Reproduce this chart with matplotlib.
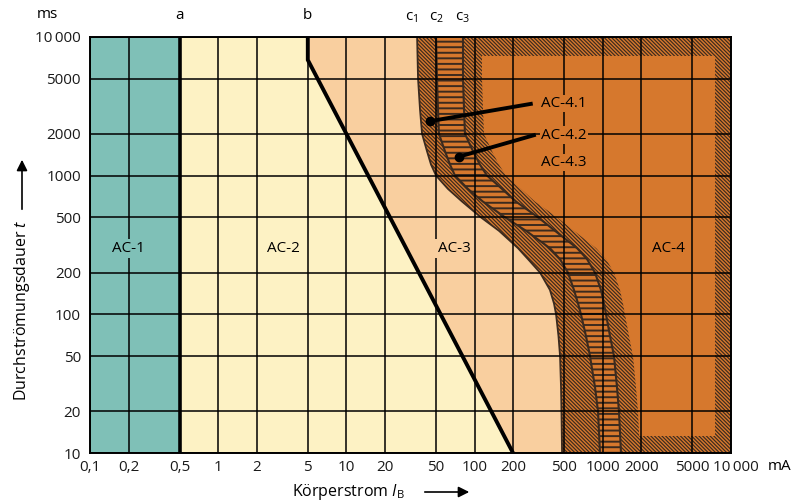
import matplotlib
matplotlib.use("Agg")
import matplotlib.pyplot as plt
import matplotlib.transforms as mtransforms
from matplotlib.patches import Rectangle
from matplotlib.ticker import FixedLocator, FixedFormatter, NullLocator

plt.rcParams['font.family'] = ['Open Sans', 'DejaVu Sans']
plt.rcParams['mathtext.fontset'] = 'custom'
plt.rcParams['mathtext.rm'] = 'Open Sans'
plt.rcParams['mathtext.it'] = 'Open Sans:italic'
plt.rcParams['hatch.linewidth'] = 0.85

BS = chr(92)

# ---------------- data ----------------
x_ticks = [0.1, 0.2, 0.5, 1, 2, 5, 10, 20, 50, 100, 200, 500, 1000, 2000, 5000, 10000]
x_labels = ["0,1", "0,2", "0,5", "1", "2", "5", "10", "20", "50", "100", "200",
            "500", "1000", "2000", "5000", "10\u2009000"]
y_ticks = [10, 20, 50, 100, 200, 500, 1000, 2000, 5000, 10000]
y_labels = ["10", "20", "50", "100", "200", "500", "1000", "2000", "5000", "10\u2009000"]

limit_a = 0.5                      # curve a (mA)
b_current = [5, 5, 200]            # curve b (mA)
b_time = [10000, 6800, 10]         # curve b (ms)

c_time = [10000, 5000, 3000, 2000, 1500, 1200, 1000, 800, 650, 500, 400, 300,
          250, 200, 150, 120, 100, 70, 50, 30, 20, 10]
c1_current = [35.6, 36.2, 37.5, 38.9, 42.5, 45.7, 50.0, 62.1, 79.8, 112, 155, 218,
              261, 324, 387, 416, 432, 451, 464, 472, 476, 481]
c2_current = [50.0, 50.9, 51.8, 52.7, 58.7, 64.3, 70.3, 88.9, 116, 173, 252, 387,
              464, 535, 596, 641, 676, 739, 795, 869, 918, 951]
c3_current = [81.2, 81.2, 82.7, 84.1, 97.1, 110, 125, 164, 210, 313, 424, 630,
              754, 869, 968, 1021, 1059, 1138, 1223, 1290, 1337, 1387]

zones = ["AC-1", "AC-2", "AC-3", "AC-4"]
zone_label_x = [0.2, 3.25, 69, 3250]
zone_label_y = [300, 300, 300, 300]

sub_zones = ["AC-4.1", "AC-4.2", "AC-4.3"]
sub_label_x = [330, 330, 330]
sub_label_y = [3300, 1950, 1240]
leader_from_x = [45, 76]
leader_from_y = [2465, 1370]
leader_to_x = [284, 300]
leader_to_y = [3300, 1970]

# ---------------- style ----------------
teal = '#7fc0b7'
yellow = '#fdf2c4'
peach = '#f9cf9f'
orange = '#d6782d'
dark = '#3b2a1e'
zone_colors = [teal, yellow, peach, orange]

x_min, x_max = 0.1, 10000
y_min, y_max = 10, 10000

fig = plt.figure(figsize=(8.08, 5.04), dpi=100)
ax = fig.add_axes([90 / 808, 1 - 453.3 / 504, 641 / 808, 416.6 / 504])
ax.set_xscale('log')
ax.set_yscale('log')
ax.set_xlim(x_min, x_max)
ax.set_ylim(y_min, y_max)

# zones
ax.axvspan(x_min, limit_a, color=teal, lw=0, zorder=0.5)
ax.axvspan(limit_a, x_max, color=yellow, lw=0, zorder=0.5)
ax.fill_betweenx(b_time, b_current, x_max, color=peach, lw=0, zorder=0.6)

diag = BS * 9
band1 = ax.fill_betweenx(c_time, c1_current, c2_current, facecolor=orange,
                         edgecolor=dark, hatch=diag, lw=0, zorder=0.7)
band2 = ax.fill_betweenx(c_time, c2_current, c3_current, facecolor=orange,
                         edgecolor=dark, hatch='---', lw=0, zorder=0.7)
if hasattr(band2, 'set_hatch_linewidth'):
    band2.set_hatch_linewidth(1.4)
band3 = ax.fill_betweenx(c_time, c3_current, x_max, facecolor=orange,
                         edgecolor=dark, hatch=diag, lw=0, zorder=0.7)

shift = ax.transData + mtransforms.ScaledTranslation(0.19, 0, fig.dpi_scale_trans)
inner = ax.fill_betweenx(c_time, c3_current, x_max, facecolor=orange, lw=0,
                         zorder=0.8, transform=shift)
clip = Rectangle((0, 0.042), 0.975, 0.912, transform=ax.transAxes)
inner.set_clip_path(clip)

# curve outlines
ax.plot(c1_current, c_time, color=dark, lw=1.3, zorder=1)
ax.plot(c2_current, c_time, color=dark, lw=1.5, zorder=1)
ax.plot(c3_current, c_time, color=dark, lw=1.5, zorder=1)

# grid and ticks
ax.set_axisbelow(False)
ax.xaxis.set_major_locator(FixedLocator(x_ticks))
ax.xaxis.set_major_formatter(FixedFormatter(x_labels))
ax.yaxis.set_major_locator(FixedLocator(y_ticks))
ax.yaxis.set_major_formatter(FixedFormatter(y_labels))
ax.xaxis.set_minor_locator(NullLocator())
ax.yaxis.set_minor_locator(NullLocator())
ax.grid(True, which='major', color='black', lw=1.1)
ax.tick_params(axis='both', length=0, labelsize=11, colors='#1a1a1a')
ax.tick_params(axis='x', pad=4.5)
ax.tick_params(axis='y', pad=6.5)
for s in ax.spines.values():
    s.set_color('black')
    s.set_linewidth(1.4)
fig.canvas.draw()
last = ax.get_xticklabels()[-1]
last.set_transform(last.get_transform() +
                   mtransforms.ScaledTranslation(0.05, 0, fig.dpi_scale_trans))

# curves a and b
ax.axvline(limit_a, color='black', lw=2.6, zorder=3)
ax.plot(b_current, b_time, color='black', lw=2.8, zorder=3, solid_joinstyle='miter')

# zone labels
for name, zx, zy, zc in zip(zones, zone_label_x, zone_label_y, zone_colors):
    ax.text(zx, zy, name, ha='center', va='center', fontsize=11, zorder=4,
            bbox=dict(facecolor=zc, edgecolor='none', pad=1.5))
for name, sx, sy in zip(sub_zones, sub_label_x, sub_label_y):
    ax.text(sx, sy, name, ha='left', va='center', fontsize=11, zorder=4,
            bbox=dict(facecolor=orange, edgecolor='none', pad=1.0))
for fx, fy, tx, ty in zip(leader_from_x, leader_from_y, leader_to_x, leader_to_y):
    ax.plot([fx, tx], [fy, ty], color='black', lw=2.8, zorder=4, solid_capstyle='butt')
    ax.plot([fx], [fy], marker='o', color='black', ms=6, zorder=4)

# curve names on top
top = mtransforms.blended_transform_factory(ax.transData, ax.transAxes)
ax.text(limit_a, 1.052, "a", transform=top, ha='center', va='center', fontsize=11)
ax.text(b_current[0], 1.052, "b", transform=top, ha='center', va='center', fontsize=11)
for lab, xc in zip([r"c$_1$", r"c$_2$", r"c$_3$"], [32, 50, 80]):
    ax.text(xc, 1.047, lab, transform=top, ha='center', va='center', fontsize=11)

fig.text(47 / 808, 1 - 15 / 504, "ms", ha='center', va='center', fontsize=11)
fig.text(780 / 808, 1 - 467 / 504, "mA", ha='center', va='center', fontsize=11)

# axis titles with arrows
fig.text(348 / 808, 1 - 492 / 504, r"Körperstrom $\mathit{I}_\mathrm{B}$",
         ha='center', va='center', fontsize=11.5)
fig.text(22 / 808, 1 - 310 / 504, r"Durchströmungsdauer $\mathit{t}$",
         rotation=90, ha='center', va='center', fontsize=11.5)
ax.annotate('', xy=(472 / 808, 1 - 492 / 504), xytext=(422 / 808, 1 - 492 / 504),
            xycoords='figure fraction', textcoords='figure fraction',
            arrowprops=dict(arrowstyle='-|>', color='black', lw=1.2, mutation_scale=16))
ax.annotate('', xy=(22 / 808, 1 - 157 / 504), xytext=(22 / 808, 1 - 212 / 504),
            xycoords='figure fraction', textcoords='figure fraction',
            arrowprops=dict(arrowstyle='-|>', color='black', lw=1.2, mutation_scale=16))

fig.savefig("out.png", dpi=100)
